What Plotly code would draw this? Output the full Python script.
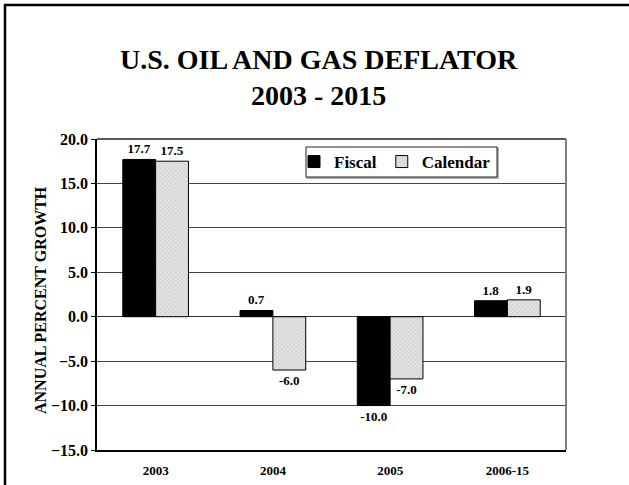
import plotly.graph_objects as go

categories = ["2003", "2004", "2005", "2006-15"]
fiscal = [17.7, 0.7, -10.0, 1.8]
calendar = [17.5, -6.0, -7.0, 1.9]
y_ticks = [20, 15, 10, 5, 0, -5, -10, -15]

W, H = 629, 485
L, R, T, B = 97, 566, 139, 450

FONT = "Liberation Serif, Times New Roman, serif"

fig = go.Figure()
fig.add_trace(go.Bar(
    name="Fiscal", x=categories, y=fiscal,
    marker=dict(color="#000000", line=dict(color="#000000", width=1)),
    text=[f"{v:.1f}" for v in fiscal], textposition="outside",
    textfont=dict(family=FONT, size=13, color="#000", weight="bold"),
    cliponaxis=False,
))
fig.add_trace(go.Bar(
    name="Calendar", x=categories, y=calendar,
    marker=dict(color="#d8d8d8", line=dict(color="#000000", width=1),
                pattern=dict(shape="x", size=3, fgcolor="#9a9a9a", bgcolor="#e4e4e4", solidity=0.3)),
    text=[f"{v:.1f}" for v in calendar], textposition="outside",
    textfont=dict(family=FONT, size=13, color="#000", weight="bold"),
    cliponaxis=False,
))

def px(xp):
    return (xp - L) / (R - L)

def py(yp):
    return (B - yp) / (B - T)

fig.update_layout(
    width=W, height=H,
    margin=dict(l=L, r=W - R, t=T, b=H - B, pad=0, autoexpand=False),
    paper_bgcolor="white", plot_bgcolor="white",
    barmode="group", bargap=0.44, bargroupgap=0,
    font=dict(family=FONT, color="#000"),
    showlegend=True,
    legend=dict(
        orientation="h", x=px(294), y=py(162), xanchor="left", yanchor="middle",
        bgcolor="rgba(0,0,0,0)", borderwidth=0,
        font=dict(family=FONT, size=17, color="#000", weight="bold"),
        itemwidth=30, tracegroupgap=0,
    ),
    xaxis=dict(
        showline=True, linecolor="#000", linewidth=1.5, ticks="",
        tickfont=dict(family=FONT, size=13, weight="bold"),
        showgrid=False, ticklabelstandoff=8, automargin=False,
    ),
    yaxis=dict(
        range=[-15, 20], tickvals=y_ticks, tickformat=".1f",
        showline=True, linecolor="#000", linewidth=1.5,
        ticks="outside", ticklen=4, tickcolor="#000",
        tickfont=dict(family=FONT, size=16, weight="bold"),
        showgrid=True, gridcolor="#444", gridwidth=1,
        zeroline=True, zerolinecolor="#333", zerolinewidth=1, automargin=False,
    ),
    annotations=[
        dict(text="U.S. OIL AND GAS DEFLATOR<br>2003 - 2015", xref="paper", yref="paper",
             x=px(319), y=py(77), xanchor="center", yanchor="middle", showarrow=False,
             font=dict(family=FONT, size=28, color="#000", weight="bold")),
        dict(text="ANNUAL PERCENT GROWTH", xref="paper", yref="paper",
             x=px(40), y=py(300), xanchor="center", yanchor="middle", showarrow=False,
             textangle=-90, font=dict(family=FONT, size=16, color="#000", weight="bold")),
    ],
    shapes=[
        dict(type="line", xref="paper", yref="paper", x0=0, x1=1, y0=1, y1=1,
             line=dict(color="#222", width=1.5)),
        dict(type="line", xref="paper", yref="paper", x0=1, x1=1, y0=0, y1=1,
             line=dict(color="#808080", width=2)),
        # legend box with slight shadow
        dict(type="rect", xref="paper", yref="paper", x0=px(307), x1=px(498), y0=py(148), y1=py(178),
             line=dict(color="#999", width=1.5), fillcolor="rgba(0,0,0,0)", layer="below"),
        dict(type="rect", xref="paper", yref="paper", x0=px(306), x1=px(497), y0=py(147), y1=py(177),
             line=dict(color="#222", width=1), fillcolor="white", layer="below"),
        # outer frame
        dict(type="line", xref="paper", yref="paper", x0=px(4), x1=px(629), y0=py(5), y1=py(5),
             line=dict(color="#000", width=2.5)),
        dict(type="line", xref="paper", yref="paper", x0=px(5), x1=px(5), y0=py(4), y1=py(485),
             line=dict(color="#000", width=2.5)),
    ],
)

fig.write_html("out.html", config={"displayModeBar": False},
               post_script="document.body.style.margin='0';document.body.style.padding='0';")
